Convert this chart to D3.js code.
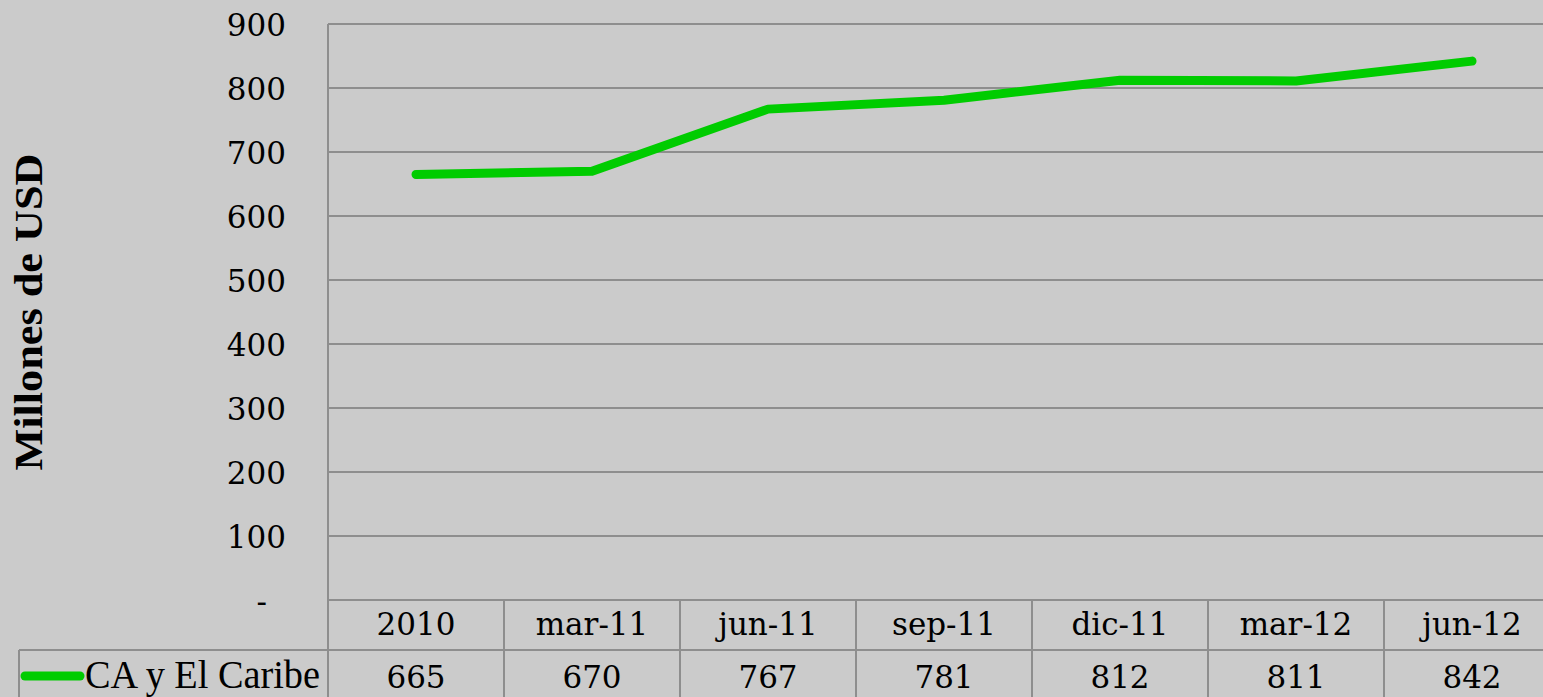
<!DOCTYPE html>
<html>
<head>
<meta charset="utf-8">
<script src="https://cdn.jsdelivr.net/npm/d3@7"></script>
<style>
  html, body { margin: 0; padding: 0; background: #cbcbcb; overflow: hidden; }
  svg { display: block; }
</style>
</head>
<body>
<div id="chart"></div>
<script>
// Chart data
const categories = ['2010', 'mar-11', 'jun-11', 'sep-11', 'dic-11', 'mar-12', 'jun-12'];
const seriesName = 'CA y El Caribe';
const seriesValues = [665, 670, 767, 781, 812, 811, 842];
const yTicks = [0, 100, 200, 300, 400, 500, 600, 700, 800, 900];
const yTitle = 'Millones de USD';

const W = 1543, H = 697;
const plot = { left: 328, top: 24, bottom: 600, colW: 176 };
const rowH = 50;
const gridColor = '#8e8e8e';
const lineColor = '#00cc00';
const numFont = '"DejaVu Serif", serif';

const svg = d3.select('#chart').append('svg')
  .attr('width', W)
  .attr('height', H)
  .attr('viewBox', `0 0 ${W} ${H}`);

svg.append('rect').attr('width', W).attr('height', H).attr('fill', '#cbcbcb');

// Scales
const x = d3.scaleBand()
  .domain(categories)
  .range([plot.left, plot.left + categories.length * plot.colW])
  .padding(0);

const y = d3.scaleLinear()
  .domain([0, 900])
  .range([plot.bottom, plot.top]);

// Gridlines
svg.append('g')
  .selectAll('line')
  .data(yTicks.filter(d => d > 0))
  .enter()
  .append('line')
  .attr('x1', plot.left)
  .attr('x2', W)
  .attr('y1', d => y(d))
  .attr('y2', d => y(d))
  .attr('stroke', gridColor)
  .attr('stroke-width', 2);

// Y axis labels
const yAxis = svg.append('g')
  .attr('transform', `translate(${plot.left},0)`)
  .call(d3.axisLeft(y)
    .tickValues(yTicks)
    .tickSize(0)
    .tickPadding(42)
    .tickFormat(d => d === 0 ? '-' : d));

yAxis.select('.domain').remove();
yAxis.selectAll('text')
  .attr('font-family', numFont)
  .attr('font-size', 31)
  .attr('fill', '#000')
  .attr('dy', '0.36em')
  .attr('dx', d => d === 0 ? -19 : 0);

// Y axis title
svg.append('text')
  .attr('transform', `translate(42,${(plot.top + plot.bottom) / 2}) rotate(-90)`)
  .attr('text-anchor', 'middle')
  .attr('font-family', '"Liberation Serif", serif')
  .attr('font-weight', 'bold')
  .attr('font-size', 41)
  .attr('textLength', 317)
  .attr('lengthAdjust', 'spacingAndGlyphs')
  .text(yTitle);

// Data table lines
const tableRight = x.range()[1];
const table = svg.append('g')
  .attr('stroke', gridColor)
  .attr('stroke-width', 2);

// axis line / top of table
table.append('line')
  .attr('x1', plot.left).attr('x2', tableRight)
  .attr('y1', plot.bottom).attr('y2', plot.bottom);

// between header and value row
table.append('line')
  .attr('x1', 19).attr('x2', tableRight)
  .attr('y1', plot.bottom + rowH).attr('y2', plot.bottom + rowH);

// left plot border
table.append('line')
  .attr('x1', plot.left).attr('x2', plot.left)
  .attr('y1', plot.top).attr('y2', H + 5);

// legend cell left border
table.append('line')
  .attr('x1', 19).attr('x2', 19)
  .attr('y1', plot.bottom + rowH).attr('y2', H + 5);

// column separators
table.selectAll('line.col')
  .data(categories.slice(1))
  .enter()
  .append('line')
  .attr('class', 'col')
  .attr('x1', d => x(d)).attr('x2', d => x(d))
  .attr('y1', plot.bottom).attr('y2', H + 5);

// Category labels
svg.append('g')
  .selectAll('text')
  .data(categories)
  .enter()
  .append('text')
  .attr('x', d => x(d) + x.bandwidth() / 2)
  .attr('y', plot.bottom + 35)
  .attr('text-anchor', 'middle')
  .attr('font-family', numFont)
  .attr('font-size', 31)
  .text(d => d);

// Values row
svg.append('g')
  .selectAll('text')
  .data(seriesValues)
  .enter()
  .append('text')
  .attr('x', (d, i) => x(categories[i]) + x.bandwidth() / 2)
  .attr('y', plot.bottom + rowH + 38)
  .attr('text-anchor', 'middle')
  .attr('font-family', numFont)
  .attr('font-size', 31)
  .text(d => d);

// Legend key
svg.append('line')
  .attr('x1', 25).attr('x2', 80)
  .attr('y1', 676).attr('y2', 676)
  .attr('stroke', lineColor)
  .attr('stroke-width', 9)
  .attr('stroke-linecap', 'round');

svg.append('text')
  .attr('x', 85)
  .attr('y', 688)
  .attr('font-family', '"Liberation Serif", serif')
  .attr('font-size', 40)
  .attr('textLength', 235)
  .attr('lengthAdjust', 'spacingAndGlyphs')
  .text(seriesName);

// Series line
const line = d3.line()
  .x((d, i) => x(categories[i]) + x.bandwidth() / 2)
  .y(d => y(d));

svg.append('path')
  .datum(seriesValues)
  .attr('d', line)
  .attr('fill', 'none')
  .attr('stroke', lineColor)
  .attr('stroke-width', 9)
  .attr('stroke-linecap', 'round')
  .attr('stroke-linejoin', 'round');
</script>
</body>
</html>
